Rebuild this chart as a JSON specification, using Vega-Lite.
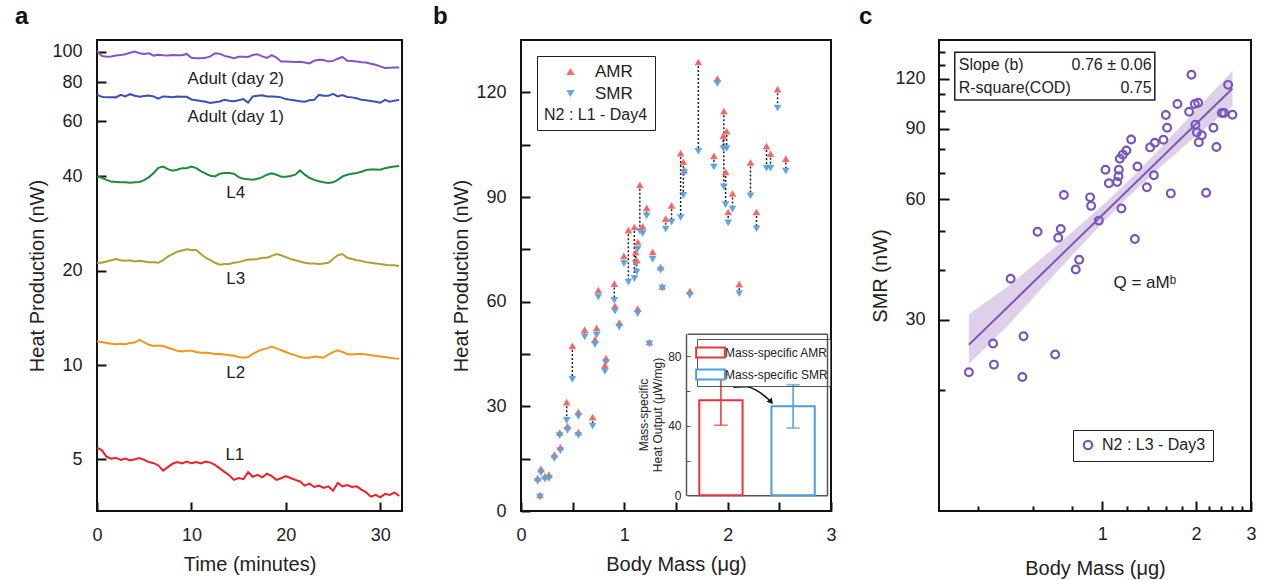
{
"$schema": "https://vega.github.io/schema/vega-lite/v6.json",
"background": "white",
"padding": {"left": 13, "top": 4, "right": 5, "bottom": 5},
"spacing": 28,
"resolve": {"scale": {"color": "independent", "shape": "independent", "stroke": "independent"}, "legend": {"color": "independent", "shape": "independent", "stroke": "independent"}},
"config": {
  "font": "Liberation Sans",
  "view": {"stroke": "#111", "strokeWidth": 2},
  "axis": {"domain": false, "grid": false, "tickColor": "#111", "tickWidth": 2, "tickSize": -9, "labelPadding": 24, "labelFontSize": 18, "labelColor": "#222", "labelFont": "Liberation Sans", "titleFont": "Liberation Sans", "titleFontSize": 20, "titleFontWeight": "normal", "titleColor": "#222", "titlePadding": 4, "labelFlush": false, "labelOverlap": false},
  "axisX": {"titlePadding": 10},
  "legend": {"labelFont": "Liberation Sans", "titleFont": "Liberation Sans", "labelColor": "#222", "titleColor": "#222"},
  "title": {"anchor": "start", "frame": "bounds", "fontSize": 24, "fontWeight": "bold", "offset": 11, "font": "Liberation Sans", "color": "#111"}
},
"datasets": {
  "timeSeries": [
    {"t":0,"a2":100.5,"a1":73.0,"l4":40.0,"l3":21.2,"l2":11.9,"l1":5.45},
    {"t":0.5,"a2":97.0,"a1":71.8,"l4":39.6,"l3":21.2,"l2":11.85,"l1":5.35},
    {"t":1,"a2":96.4,"a1":71.5,"l4":39.0,"l3":21.4,"l2":11.75,"l1":5.10},
    {"t":1.5,"a2":96.6,"a1":71.6,"l4":38.5,"l3":21.6,"l2":11.7,"l1":5.02},
    {"t":2,"a2":97.2,"a1":71.5,"l4":38.4,"l3":21.8,"l2":11.65,"l1":5.06},
    {"t":2.5,"a2":97.6,"a1":72.8,"l4":38.3,"l3":21.6,"l2":11.7,"l1":4.98},
    {"t":3,"a2":98.2,"a1":72.0,"l4":38.3,"l3":21.5,"l2":11.65,"l1":5.03},
    {"t":3.5,"a2":99.2,"a1":73.2,"l4":38.2,"l3":21.6,"l2":11.75,"l1":4.96},
    {"t":4,"a2":100.2,"a1":72.4,"l4":38.3,"l3":21.4,"l2":11.8,"l1":5.00},
    {"t":4.5,"a2":98.8,"a1":71.8,"l4":38.4,"l3":21.5,"l2":12.05,"l1":5.05},
    {"t":5,"a2":98.4,"a1":72.2,"l4":38.9,"l3":21.4,"l2":11.8,"l1":4.98},
    {"t":5.5,"a2":98.8,"a1":72.5,"l4":39.8,"l3":21.3,"l2":11.6,"l1":4.90},
    {"t":6,"a2":97.2,"a1":72.0,"l4":41.0,"l3":21.3,"l2":11.5,"l1":4.86},
    {"t":6.5,"a2":97.8,"a1":70.8,"l4":42.6,"l3":21.2,"l2":11.55,"l1":4.78},
    {"t":7,"a2":97.4,"a1":72.0,"l4":43.0,"l3":21.6,"l2":11.5,"l1":4.60},
    {"t":7.5,"a2":97.2,"a1":71.8,"l4":42.2,"l3":22.2,"l2":11.35,"l1":4.72},
    {"t":8,"a2":97.6,"a1":71.6,"l4":41.7,"l3":22.6,"l2":11.25,"l1":4.84},
    {"t":8.5,"a2":97.4,"a1":72.0,"l4":42.0,"l3":23.0,"l2":11.1,"l1":4.90},
    {"t":9,"a2":97.4,"a1":71.8,"l4":42.5,"l3":23.2,"l2":11.05,"l1":4.85},
    {"t":9.5,"a2":98.4,"a1":71.8,"l4":42.5,"l3":23.4,"l2":11.1,"l1":4.92},
    {"t":10,"a2":95.6,"a1":70.4,"l4":43.0,"l3":23.3,"l2":11.1,"l1":4.86},
    {"t":10.5,"a2":95.4,"a1":70.0,"l4":42.5,"l3":23.3,"l2":11.0,"l1":4.90},
    {"t":11,"a2":95.4,"a1":69.6,"l4":41.6,"l3":22.6,"l2":10.95,"l1":4.85},
    {"t":11.5,"a2":95.6,"a1":69.2,"l4":40.8,"l3":22.0,"l2":10.95,"l1":4.92},
    {"t":12,"a2":96.6,"a1":68.6,"l4":40.2,"l3":21.6,"l2":10.9,"l1":4.88},
    {"t":12.5,"a2":98.8,"a1":69.0,"l4":40.0,"l3":21.2,"l2":10.85,"l1":4.80},
    {"t":13,"a2":98.6,"a1":69.4,"l4":40.8,"l3":20.9,"l2":10.85,"l1":4.68},
    {"t":13.5,"a2":97.0,"a1":70.2,"l4":41.0,"l3":21.0,"l2":10.8,"l1":4.56},
    {"t":14,"a2":96.2,"a1":69.8,"l4":41.0,"l3":21.0,"l2":10.75,"l1":4.45},
    {"t":14.5,"a2":95.4,"a1":69.5,"l4":40.8,"l3":21.2,"l2":10.7,"l1":4.30},
    {"t":15,"a2":96.4,"a1":70.0,"l4":39.8,"l3":21.3,"l2":10.6,"l1":4.36},
    {"t":15.5,"a2":96.4,"a1":70.6,"l4":39.3,"l3":21.5,"l2":10.55,"l1":4.32},
    {"t":16,"a2":96.2,"a1":68.8,"l4":39.2,"l3":21.7,"l2":10.6,"l1":4.55},
    {"t":16.5,"a2":97.6,"a1":72.0,"l4":39.0,"l3":21.7,"l2":10.85,"l1":4.40},
    {"t":17,"a2":98.2,"a1":72.4,"l4":39.3,"l3":21.8,"l2":11.05,"l1":4.46},
    {"t":17.5,"a2":96.6,"a1":72.6,"l4":39.8,"l3":22.0,"l2":11.2,"l1":4.38},
    {"t":18,"a2":95.6,"a1":72.0,"l4":40.5,"l3":22.0,"l2":11.3,"l1":4.50},
    {"t":18.5,"a2":97.6,"a1":72.0,"l4":40.9,"l3":22.3,"l2":11.45,"l1":4.42},
    {"t":19,"a2":95.8,"a1":71.8,"l4":40.5,"l3":22.6,"l2":11.3,"l1":4.30},
    {"t":19.5,"a2":93.0,"a1":71.5,"l4":39.9,"l3":22.4,"l2":11.15,"l1":4.35},
    {"t":20,"a2":93.0,"a1":70.6,"l4":39.9,"l3":22.1,"l2":11.0,"l1":4.42},
    {"t":20.5,"a2":92.9,"a1":70.2,"l4":40.1,"l3":21.8,"l2":10.85,"l1":4.36},
    {"t":21,"a2":92.8,"a1":69.9,"l4":40.5,"l3":21.6,"l2":10.75,"l1":4.30},
    {"t":21.5,"a2":92.9,"a1":69.5,"l4":41.8,"l3":21.4,"l2":10.6,"l1":4.25},
    {"t":22,"a2":92.4,"a1":69.3,"l4":40.5,"l3":21.2,"l2":10.55,"l1":4.12},
    {"t":22.5,"a2":91.8,"a1":70.0,"l4":39.6,"l3":21.1,"l2":10.55,"l1":4.18},
    {"t":23,"a2":93.6,"a1":70.2,"l4":39.0,"l3":21.1,"l2":10.65,"l1":4.08},
    {"t":23.5,"a2":94.3,"a1":72.8,"l4":38.6,"l3":21.0,"l2":10.6,"l1":4.12},
    {"t":24,"a2":94.1,"a1":72.4,"l4":38.3,"l3":21.1,"l2":10.55,"l1":4.05},
    {"t":24.5,"a2":93.0,"a1":72.3,"l4":38.1,"l3":21.2,"l2":10.8,"l1":4.10},
    {"t":25,"a2":93.5,"a1":73.4,"l4":38.3,"l3":21.8,"l2":11.0,"l1":3.97},
    {"t":25.5,"a2":95.0,"a1":72.0,"l4":39.0,"l3":22.4,"l2":11.15,"l1":4.20},
    {"t":26,"a2":96.2,"a1":72.7,"l4":40.0,"l3":22.6,"l2":11.0,"l1":4.10},
    {"t":26.5,"a2":93.5,"a1":71.7,"l4":40.5,"l3":22.0,"l2":10.85,"l1":4.14},
    {"t":27,"a2":93.4,"a1":71.5,"l4":40.8,"l3":21.8,"l2":10.8,"l1":4.08},
    {"t":27.5,"a2":93.0,"a1":71.0,"l4":41.0,"l3":21.6,"l2":10.85,"l1":4.10},
    {"t":28,"a2":92.6,"a1":70.2,"l4":41.4,"l3":21.5,"l2":10.85,"l1":4.00},
    {"t":28.5,"a2":92.4,"a1":70.0,"l4":41.9,"l3":21.3,"l2":10.8,"l1":3.92},
    {"t":29,"a2":91.6,"a1":69.6,"l4":42.1,"l3":21.2,"l2":10.75,"l1":3.80},
    {"t":29.5,"a2":90.9,"a1":69.2,"l4":42.1,"l3":21.1,"l2":10.7,"l1":3.85},
    {"t":30,"a2":89.8,"a1":68.7,"l4":42.0,"l3":21.0,"l2":10.65,"l1":3.78},
    {"t":30.5,"a2":88.8,"a1":70.2,"l4":42.5,"l3":20.9,"l2":10.6,"l1":3.88},
    {"t":31,"a2":88.9,"a1":69.3,"l4":42.8,"l3":20.8,"l2":10.55,"l1":3.85},
    {"t":31.5,"a2":89.0,"a1":69.8,"l4":43.0,"l3":20.8,"l2":10.5,"l1":3.92},
    {"t":32,"a2":89.0,"a1":70.2,"l4":43.2,"l3":20.7,"l2":10.48,"l1":3.82}
  ],
  "timeLabels": [
    {"t":14.7,"v":81.9,"label":"Adult (day 2)"},
    {"t":14.7,"v":61.8,"label":"Adult (day 1)"},
    {"t":14.7,"v":35.4,"label":"L4"},
    {"t":14.7,"v":18.75,"label":"L3"},
    {"t":14.7,"v":9.46,"label":"L2"},
    {"t":14.6,"v":5.15,"label":"L1"}
  ],
  "massPairs": [
    {"m":0.161,"AMR":9.4,"SMR":8.5},{"m":0.193,"AMR":12.1,"SMR":10.9},{"m":0.184,"AMR":4.6,"SMR":4.0},
    {"m":0.232,"AMR":10.0,"SMR":9.1},{"m":0.271,"AMR":10.4,"SMR":9.3},{"m":0.323,"AMR":16.2,"SMR":15.0},
    {"m":0.381,"AMR":18.3,"SMR":17.3},{"m":0.374,"AMR":22.5,"SMR":21.6},{"m":0.442,"AMR":31.2,"SMR":26.0},
    {"m":0.45,"AMR":24.3,"SMR":23.1},{"m":0.497,"AMR":47.3,"SMR":37.7},{"m":0.555,"AMR":28.4,"SMR":27.1},
    {"m":0.555,"AMR":22.6,"SMR":21.7},{"m":0.693,"AMR":26.9,"SMR":24.3},{"m":0.616,"AMR":52.0,"SMR":49.9},
    {"m":0.732,"AMR":52.5,"SMR":50.4},{"m":0.716,"AMR":49.2,"SMR":47.7},{"m":0.822,"AMR":43.8,"SMR":42.5},
    {"m":0.812,"AMR":41.8,"SMR":40.0},{"m":0.909,"AMR":58.8,"SMR":57.3},{"m":0.951,"AMR":54.0,"SMR":52.7},
    {"m":1.129,"AMR":58.0,"SMR":56.6},{"m":1.242,"AMR":48.4,"SMR":47.9},{"m":0.748,"AMR":63.3,"SMR":61.3},
    {"m":0.903,"AMR":65.2,"SMR":60.4},{"m":0.996,"AMR":73.1,"SMR":70.9},{"m":1.039,"AMR":80.5,"SMR":65.6},
    {"m":1.097,"AMR":81.4,"SMR":66.6},{"m":1.15,"AMR":93.5,"SMR":80.2},{"m":1.177,"AMR":81.6,"SMR":79.5},
    {"m":1.11,"AMR":74.2,"SMR":70.9},{"m":1.12,"AMR":71.9,"SMR":68.5},{"m":1.13,"AMR":77.1,"SMR":75.1},
    {"m":1.216,"AMR":86.9,"SMR":84.6},{"m":1.274,"AMR":74.3,"SMR":72.1},{"m":1.4,"AMR":83.8,"SMR":80.8},
    {"m":1.457,"AMR":87.6,"SMR":82.8},{"m":1.545,"AMR":102.6,"SMR":84.1},{"m":1.571,"AMR":100.1,"SMR":90.5},
    {"m":1.58,"AMR":97.7,"SMR":97.0},{"m":1.716,"AMR":128.7,"SMR":103.1},{"m":1.867,"AMR":101.8,"SMR":98.6},
    {"m":1.90,"AMR":123.9,"SMR":122.5},{"m":1.963,"AMR":114.6,"SMR":92.9},{"m":1.957,"AMR":107.5,"SMR":103.9},
    {"m":1.99,"AMR":108.9,"SMR":103.9},{"m":1.98,"AMR":97.2,"SMR":87.8},{"m":2.047,"AMR":91.0,"SMR":86.5},
    {"m":2.005,"AMR":85.7,"SMR":82.6},{"m":2.221,"AMR":99.9,"SMR":90.3},{"m":2.279,"AMR":85.7,"SMR":80.9},
    {"m":2.376,"AMR":104.6,"SMR":98.3},{"m":2.415,"AMR":102.4,"SMR":98.3},{"m":2.483,"AMR":120.9,"SMR":115.5},
    {"m":2.563,"AMR":101.0,"SMR":97.4},{"m":2.112,"AMR":65.0,"SMR":62.3},{"m":1.634,"AMR":63.0,"SMR":61.8},
    {"m":1.351,"AMR":69.9,"SMR":69.0},{"m":1.367,"AMR":64.4,"SMR":63.9}
  ],
  "arrow": [
    {"ax":2.054,"ay":35.5},{"ax":2.18,"ay":35.6},{"ax":2.31,"ay":34.0},{"ax":2.40,"ay":31.9}
  ],
  "arrowHead": [{"ax":2.42,"ay":31.3}],
  "inset": [
    {"kind":"Mass-specific AMR","mean":54.7,"lo":40.3,"hi":69.4},
    {"kind":"Mass-specific SMR","mean":51.2,"lo":38.7,"hi":63.6}
  ],
  "smr": [
    {"m":0.374,"q":22.2},{"m":0.447,"q":26.2},{"m":0.450,"q":23.2},{"m":0.560,"q":27.3},{"m":0.555,"q":21.6},
    {"m":0.707,"q":24.6},{"m":0.509,"q":38.0},{"m":0.621,"q":49.8},{"m":0.737,"q":50.6},{"m":0.723,"q":48.1},
    {"m":0.754,"q":61.5},{"m":0.844,"q":42.4},{"m":0.823,"q":40.1},{"m":0.915,"q":60.7},{"m":0.922,"q":57.8},
    {"m":0.976,"q":53.1},{"m":1.025,"q":71.1},{"m":1.051,"q":65.8},{"m":1.117,"q":66.3},{"m":1.128,"q":68.5},
    {"m":1.131,"q":71.1},{"m":1.139,"q":75.8},{"m":1.165,"q":77.6},{"m":1.196,"q":79.5},{"m":1.239,"q":84.7},
    {"m":1.298,"q":72.5},{"m":1.153,"q":56.9},{"m":1.273,"q":47.8},{"m":1.391,"q":64.3},{"m":1.465,"q":68.9},
    {"m":1.425,"q":80.9},{"m":1.475,"q":83.1},{"m":1.572,"q":84.5},{"m":1.615,"q":90.6},{"m":1.600,"q":97.5},
    {"m":1.660,"q":62.1},{"m":1.743,"q":103.8},{"m":1.900,"q":99.3},{"m":1.933,"q":122.9},{"m":1.982,"q":103.8},
    {"m":2.031,"q":104.6},{"m":1.991,"q":92.2},{"m":2.012,"q":88.2},{"m":2.087,"q":86.7},{"m":2.041,"q":83.3},
    {"m":2.154,"q":62.3},{"m":2.274,"q":90.6},{"m":2.324,"q":81.1},{"m":2.419,"q":98.6},{"m":2.460,"q":98.6},
    {"m":2.534,"q":115.9},{"m":2.616,"q":97.6}
  ],
  "fit": [{"m":0.374,"q":26.0},{"m":2.616,"q":113.5}],
  "band": [
    {"m":0.374,"lo":23.3,"hi":31.0},{"m":0.5,"lo":29.1,"hi":36.4},{"m":0.708,"lo":39.2,"hi":45.7},
    {"m":1.0,"lo":52.3,"hi":57.8},{"m":1.259,"lo":62.6,"hi":68.6},{"m":1.585,"lo":73.8,"hi":82.6},
    {"m":1.995,"lo":86.2,"hi":100.3},{"m":2.616,"lo":102.5,"hi":125.5}
  ],
  "statBox": [{"x0":0.337,"x1":1.475,"y0":106.2,"y1":139.8}],
  "statLeft": [{"x":0.347,"y":130,"t":"Slope (b)"},{"x":0.347,"y":113.8,"t":"R-square(COD)"}],
  "statRight": [{"x":1.44,"y":130,"t":"0.76 ± 0.06"},{"x":1.44,"y":113.8,"t":"0.75"}],
  "eq": [{"x":1.37,"y":37.1,"t":"Q = aMᵇ"}]
},
"hconcat": [
  {
    "width": 305, "height": 471,
    "title": {"text": "a", "dx": -13},
    "layer": [
      {
        "data": {"name": "timeSeries"},
        "transform": [{"fold": ["a2","a1","l4","l3","l2","l1"], "as": ["series","hp"]}],
        "mark": {"type": "line", "strokeWidth": 2, "clip": true},
        "encoding": {
          "x": {"field": "t", "type": "quantitative", "title": "Time (minutes)", "scale": {"domain": [0, 32.3], "nice": false, "zero": false}, "axis": {"values": [0,10,20,30]}},
          "y": {"field": "hp", "type": "quantitative", "title": "Heat Production (nW)", "scale": {"type": "log", "domain": [3.42, 109], "nice": false}, "axis": {"values": [5,10,20,40,60,80,100], "format": "d"}},
          "color": {"field": "series", "type": "nominal", "scale": {"domain": ["a2","a1","l4","l3","l2","l1"], "range": ["#7e57c2","#3a50b4","#1d8a3c","#aaa232","#f7941d","#ec2227"]}, "legend": null}
        }
      },
      {
        "data": {"name": "timeLabels"},
        "mark": {"type": "text", "fontSize": 17, "color": "#222", "font": "Liberation Sans"},
        "encoding": {
          "x": {"field": "t", "type": "quantitative", "title": "Time (minutes)"},
          "y": {"field": "v", "type": "quantitative", "title": "Heat Production (nW)"},
          "text": {"field": "label"}
        }
      }
    ]
  },
  {
    "spacing": 19,
    "resolve": {"scale": {"color": "independent", "shape": "independent", "stroke": "independent"}, "legend": {"color": "independent", "shape": "independent", "stroke": "independent"}},
    "hconcat": [
      {
        "width": 310, "height": 471,
        "title": {"text": "b", "dx": -19},
        "layer": [
          {
            "layer": [
              {
                "data": {"name": "massPairs"},
                "mark": {"type": "rule", "strokeDash": [2,2], "strokeWidth": 1.5, "color": "#222"},
                "encoding": {
                  "x": {"field": "m", "type": "quantitative", "title": "Body Mass (μg)"},
                  "y": {"field": "AMR", "type": "quantitative", "title": "Heat Production (nW)"},
                  "y2": {"field": "SMR"}
                }
              },
              {
                "data": {"name": "massPairs"},
                "transform": [{"fold": ["AMR","SMR"], "as": ["kind","hp"]}],
                "mark": {"type": "point", "filled": true, "size": 60, "opacity": 0.95},
                "encoding": {
                  "x": {"field": "m", "type": "quantitative", "title": "Body Mass (μg)", "scale": {"domain": [0,3], "nice": false}, "axis": {"orient": "bottom", "values": [0,0.5,1,1.5,2,2.5,3], "labelExpr": "datum.value % 1 === 0 ? datum.value : ''"}},
                  "y": {"field": "hp", "type": "quantitative", "title": "Heat Production (nW)", "scale": {"domain": [0,135], "nice": false}, "axis": {"orient": "left", "values": [0,15,30,45,60,75,90,105,120], "labelExpr": "datum.value % 30 === 0 ? datum.value : ''"}},
                  "color": {"field": "kind", "type": "nominal", "scale": {"domain": ["AMR","SMR"], "range": ["#f26565","#5aa4dd"]},
                    "legend": {"title": "N2 : L1 - Day4", "titleOrient": "bottom", "orient": "top-left", "offset": 16, "strokeColor": "#222", "padding": 7, "labelFontSize": 17, "titleFontSize": 16, "titleFontWeight": "normal", "symbolSize": 70, "rowPadding": 4, "titlePadding": 5, "labelOffset": 16, "symbolOffset": 18}},
                  "shape": {"field": "kind", "type": "nominal", "scale": {"domain": ["AMR","SMR"], "range": ["triangle-up","triangle-down"]},
                    "legend": {"title": "N2 : L1 - Day4", "titleOrient": "bottom", "orient": "top-left", "offset": 16, "strokeColor": "#222", "padding": 7, "labelFontSize": 17, "titleFontSize": 16, "titleFontWeight": "normal", "symbolSize": 70, "rowPadding": 4, "titlePadding": 5, "labelOffset": 16, "symbolOffset": 18}}
                }
              },
              {
                "data": {"name": "arrow"},
                "mark": {"type": "line", "interpolate": "monotone", "color": "#111", "strokeWidth": 1.5},
                "encoding": {
                  "x": {"field": "ax", "type": "quantitative", "title": "Body Mass (μg)"},
                  "y": {"field": "ay", "type": "quantitative", "title": "Heat Production (nW)"}
                }
              },
              {
                "data": {"name": "arrowHead"},
                "mark": {"type": "point", "shape": "triangle-down", "filled": true, "color": "#111", "size": 45, "angle": 320, "opacity": 1},
                "encoding": {
                  "x": {"field": "ax", "type": "quantitative", "title": "Body Mass (μg)"},
                  "y": {"field": "ay", "type": "quantitative", "title": "Heat Production (nW)"}
                }
              }
            ]
          },
          {
            "data": {"name": "inset"},
            "layer": [
              {
                "mark": {"type": "bar", "fill": "white", "strokeWidth": 2},
                "encoding": {
                  "x": {"field": "kind", "type": "nominal", "scale": {"domain": ["Mass-specific AMR","Mass-specific SMR"], "range": [166, 306], "paddingInner": 0.4, "paddingOuter": 0.17},
                    "axis": {"orient": "bottom", "offset": -15.7, "labels": false, "ticks": false, "domain": true, "domainColor": "#555", "domainWidth": 1.5, "title": null}},
                  "y": {"field": "mean", "type": "quantitative", "scale": {"domain": [0, 93], "range": [455.3, 293.7], "nice": false, "zero": true},
                    "axis": {"orient": "left", "offset": -165, "values": [0,20,40,60,80], "labelExpr": "datum.value % 40 === 0 ? datum.value : ''", "tickSize": -4, "tickWidth": 1, "tickColor": "#555", "labelPadding": 9, "labelFontSize": 12, "domain": true, "domainColor": "#555", "domainWidth": 1.5, "title": ["Mass-specific", "Heat Output (μW/mg)"], "titleFontSize": 12, "titlePadding": 3}},
                  "stroke": {"field": "kind", "type": "nominal", "scale": {"domain": ["Mass-specific AMR","Mass-specific SMR"], "range": ["#e8343c","#4a9fdb"]},
                    "legend": {"title": null, "orient": "none", "legendX": 176, "legendY": 299, "strokeColor": "#555", "padding": 2, "labelFontSize": 12, "symbolType": "M-1.4,-0.5H1.4V0.5H-1.4Z", "symbolSize": 420, "symbolStrokeWidth": 2, "symbolFillColor": "white", "rowPadding": 1, "labelOffset": 3}}
                }
              },
              {
                "mark": {"type": "rule", "strokeWidth": 1.5},
                "encoding": {
                  "x": {"field": "kind", "type": "nominal", "axis": {"orient": "top", "offset": -293.7, "labels": false, "ticks": false, "domain": true, "domainColor": "#555", "domainWidth": 1.5, "title": null}},
                  "y": {"field": "lo", "type": "quantitative", "axis": {"orient": "right", "offset": -4, "labels": false, "ticks": false, "domain": true, "domainColor": "#555", "domainWidth": 1.5, "title": null}},
                  "y2": {"field": "hi"},
                  "stroke": {"field": "kind", "type": "nominal", "legend": null}
                }
              },
              {
                "mark": {"type": "tick", "filled": false, "thickness": 0.3, "strokeWidth": 1.4, "size": 12},
                "encoding": {
                  "x": {"field": "kind", "type": "nominal", "axis": null},
                  "y": {"field": "lo", "type": "quantitative", "axis": null},
                  "stroke": {"field": "kind", "type": "nominal", "legend": null}
                }
              },
              {
                "mark": {"type": "tick", "filled": false, "thickness": 0.3, "strokeWidth": 1.4, "size": 12},
                "encoding": {
                  "x": {"field": "kind", "type": "nominal", "axis": null},
                  "y": {"field": "hi", "type": "quantitative", "axis": null},
                  "stroke": {"field": "kind", "type": "nominal", "legend": null}
                }
              }
            ],
            "resolve": {"axis": {"x": "independent", "y": "independent"}}
          }
        ],
        "resolve": {"scale": {"x": "independent", "y": "independent", "color": "independent", "shape": "independent", "stroke": "independent"}, "axis": {"x": "independent", "y": "independent"}, "legend": {"color": "independent", "shape": "independent", "stroke": "independent"}}
      },
      {
        "width": 312, "height": 471,
        "title": {"text": "c", "dx": -12},
        "layer": [
          {
            "data": {"name": "band"},
            "mark": {"type": "area", "color": "#dccbe8", "opacity": 0.9},
            "encoding": {
              "x": {"field": "m", "type": "quantitative", "title": "Body Mass (μg)", "scale": {"type": "log", "domain": [0.3, 3], "nice": false},
                "axis": {"values": [0.4,0.6,0.8,1,1.2,1.4,1.6,1.8,2,2.2,2.4,2.6,2.8,3], "labelExpr": "datum.value % 1 === 0 ? datum.value : ''", "tickSize": {"condition": {"test": "datum.value % 1 === 0", "value": -10}, "value": -5}}},
              "y": {"field": "lo", "type": "quantitative", "title": "SMR (nW)", "scale": {"type": "log", "domain": [10, 150], "nice": false},
                "axis": {"values": [20,30,40,50,60,70,80,90,100,110,120,130,140], "labelExpr": "datum.value % 30 === 0 ? datum.value : ''", "tickSize": {"condition": {"test": "datum.value % 30 === 0", "value": -10}, "value": -6}}},
              "y2": {"field": "hi"}
            }
          },
          {
            "data": {"name": "fit"},
            "mark": {"type": "line", "color": "#7a5ab5", "strokeWidth": 2},
            "encoding": {
              "x": {"field": "m", "type": "quantitative", "title": "Body Mass (μg)"},
              "y": {"field": "q", "type": "quantitative", "title": "SMR (nW)"}
            }
          },
          {
            "data": {"name": "smr"},
            "mark": {"type": "point", "filled": false, "strokeWidth": 2.2, "size": 60, "opacity": 1},
            "encoding": {
              "x": {"field": "m", "type": "quantitative", "title": "Body Mass (μg)"},
              "y": {"field": "q", "type": "quantitative", "title": "SMR (nW)"},
              "color": {"datum": "N2 : L3 - Day3", "type": "nominal", "scale": {"domain": ["N2 : L3 - Day3"], "range": ["#7556bb"]},
                "legend": {"title": null, "orient": "none", "legendX": 134, "legendY": 390, "strokeColor": "#222", "padding": 7, "labelFontSize": 16, "symbolSize": 70, "symbolStrokeWidth": 2.2, "labelOffset": 6}}
            }
          },
          {
            "data": {"name": "statBox"},
            "mark": {"type": "rect", "fill": "white", "stroke": "#222", "strokeWidth": 1.5},
            "encoding": {
              "x": {"field": "x0", "type": "quantitative", "title": "Body Mass (μg)"},
              "x2": {"field": "x1"},
              "y": {"field": "y0", "type": "quantitative", "title": "SMR (nW)"},
              "y2": {"field": "y1"}
            }
          },
          {
            "data": {"name": "statLeft"},
            "mark": {"type": "text", "align": "left", "baseline": "middle", "fontSize": 16, "color": "#222"},
            "encoding": {
              "x": {"field": "x", "type": "quantitative", "title": "Body Mass (μg)"},
              "y": {"field": "y", "type": "quantitative", "title": "SMR (nW)"},
              "text": {"field": "t"}
            }
          },
          {
            "data": {"name": "statRight"},
            "mark": {"type": "text", "align": "right", "baseline": "middle", "fontSize": 16, "color": "#222"},
            "encoding": {
              "x": {"field": "x", "type": "quantitative", "title": "Body Mass (μg)"},
              "y": {"field": "y", "type": "quantitative", "title": "SMR (nW)"},
              "text": {"field": "t"}
            }
          },
          {
            "data": {"name": "eq"},
            "mark": {"type": "text", "align": "center", "baseline": "middle", "fontSize": 17, "color": "#222"},
            "encoding": {
              "x": {"field": "x", "type": "quantitative", "title": "Body Mass (μg)"},
              "y": {"field": "y", "type": "quantitative", "title": "SMR (nW)"},
              "text": {"field": "t"}
            }
          }
        ]
      }
    ]
  }
]
}
